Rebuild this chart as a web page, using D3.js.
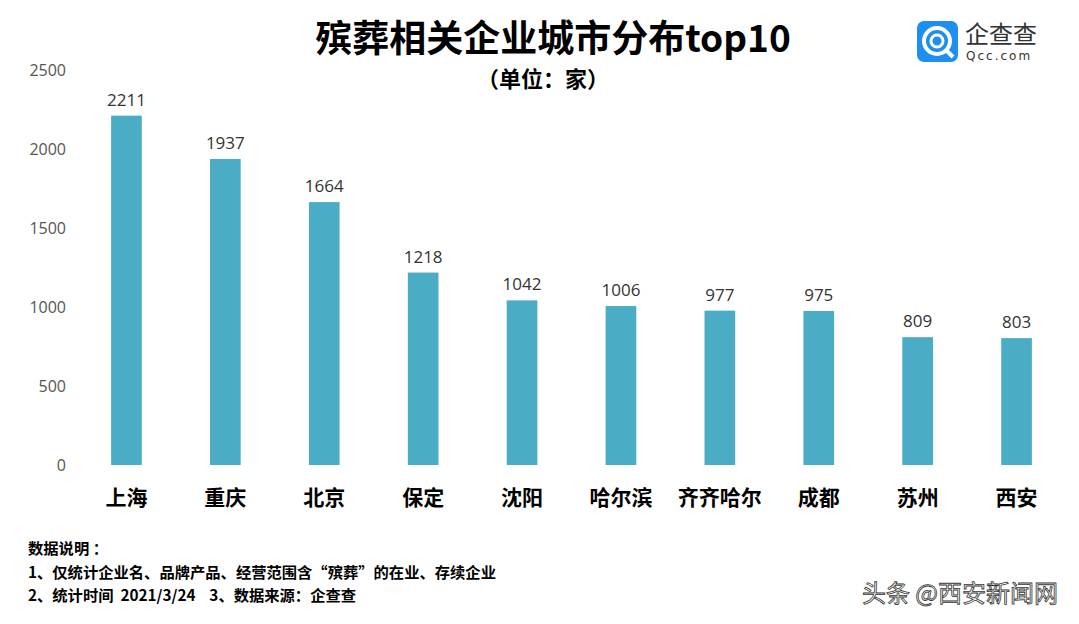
<!DOCTYPE html>
<html>
<head>
<meta charset="utf-8">
<script src="https://cdn.jsdelivr.net/npm/d3@7"></script>
<style>
  body { margin: 0; background: #fff; }
  svg { display: block; font-family: "Noto Sans CJK SC", "Noto Sans", sans-serif; }
</style>
</head>
<body>
<svg class="chart"></svg>
<script>
var cities = ["上海", "重庆", "北京", "保定", "沈阳", "哈尔滨", "齐齐哈尔", "成都", "苏州", "西安"]
var counts = [2211, 1937, 1664, 1218, 1042, 1006, 977, 975, 809, 803]
var yTicks = [0, 500, 1000, 1500, 2000, 2500]
var notes = ["数据说明 ：", "1、仅统计企业名、品牌产品、经营范围含“殡葬”的在业、存续企业", "2、统计时间  2021/3/24    3、数据来源：企查查"]

var width = 1079;
var height = 624;
var svg = d3.select(".chart").attr("width", width).attr("height", height)

var x = d3.scaleBand()
    .domain(cities)
    .range([77, 1066])
    .paddingInner(0.69)
    .paddingOuter(0.345);

var y = d3.scaleLinear()
    .domain([0, 2500])
    .range([465, 70]);

// y axis: labels only, no line
var yAxis = svg.append("g")
    .attr("transform", "translate(66,0)")
    .call(d3.axisLeft(y).tickValues(yTicks).tickFormat(d3.format("d")).tickSize(0).tickPadding(0));
yAxis.select(".domain").remove();
yAxis.selectAll("text")
    .attr("fill", "#555")
    .style("font-size", "16px")
    .style("font-family", "'Open Sans', sans-serif");

svg.selectAll(".bar")
    .data(counts)
    .enter().append("rect")
    .attr("class", "bar")
    .attr("x", function(d, i){ return x(cities[i]) })
    .attr("y", function(d){ return y(d) })
    .attr("width", x.bandwidth())
    .attr("height", function(d){ return y(0) - y(d) })
    .attr("fill", "#4bacc6");

svg.selectAll(".val")
    .data(counts)
    .enter().append("text")
    .attr("class", "val")
    .attr("x", function(d, i){ return x(cities[i]) + x.bandwidth() / 2 })
    .attr("y", function(d){ return y(d) - 10 })
    .attr("text-anchor", "middle")
    .attr("fill", "#333")
    .style("font-size", "17px")
    .style("font-family", "'Open Sans', sans-serif")
    .text(function(d){ return d });

// x axis: city names
var xAxis = svg.append("g")
    .attr("transform", "translate(0,465)")
    .call(d3.axisBottom(x).tickSize(0).tickPadding(0));
xAxis.select(".domain").remove();
xAxis.selectAll("text")
    .attr("y", 40)
    .attr("dy", 0)
    .attr("fill", "#000")
    .style("font-size", "21px")
    .style("font-weight", "bold")
    .style("font-family", "'Noto Sans CJK SC', sans-serif");

// title
svg.append("text")
    .attr("x", 553)
    .attr("y", 52)
    .attr("text-anchor", "middle")
    .style("font-size", "37px")
    .style("font-weight", "bold")
    .text("殡葬相关企业城市分布top10");

svg.append("text")
    .attr("x", 543)
    .attr("y", 87)
    .attr("text-anchor", "middle")
    .style("font-size", "22px")
    .style("font-weight", "bold")
    .text("（单位：家）");

// logo
var logo = svg.append("g").attr("transform", "translate(917,21)");
logo.append("rect")
    .attr("width", 41).attr("height", 41).attr("rx", 7)
    .attr("fill", "#1e8ef0");
logo.append("circle")
    .attr("cx", 20).attr("cy", 20).attr("r", 13)
    .attr("fill", "none").attr("stroke", "#fff").attr("stroke-width", 4);
logo.append("circle")
    .attr("cx", 20).attr("cy", 20).attr("r", 6)
    .attr("fill", "none").attr("stroke", "#fff").attr("stroke-width", 3);
logo.append("line")
    .attr("x1", 29).attr("y1", 29).attr("x2", 36).attr("y2", 36)
    .attr("stroke", "#fff").attr("stroke-width", 4);
logo.append("text")
    .attr("x", 48).attr("y", 22)
    .attr("fill", "#333")
    .style("font-size", "24px")
    .text("企查查");
logo.append("text")
    .attr("x", 49).attr("y", 39)
    .attr("fill", "#333")
    .style("font-size", "12px")
    .style("letter-spacing", "2px")
    .style("font-family", "'DejaVu Sans', sans-serif")
    .text("Qcc.com");

// notes
svg.selectAll(".note")
    .data(notes)
    .enter().append("text")
    .attr("class", "note")
    .attr("x", 28)
    .attr("y", function(d, i){ return 554 + i * 23.5 })
    .attr("fill", "#000")
    .style("font-size", "15.3px")
    .style("font-weight", "bold")
    .style("white-space", "pre")
    .text(function(d){ return d });

// watermark
svg.append("text")
    .attr("x", 1058)
    .attr("y", 602)
    .attr("text-anchor", "end")
    .attr("fill", "#fff")
    .attr("stroke", "#333")
    .attr("stroke-width", 0.8)
    .style("font-size", "24px")
    .text("头条 @西安新闻网");
</script>
</body>
</html>
